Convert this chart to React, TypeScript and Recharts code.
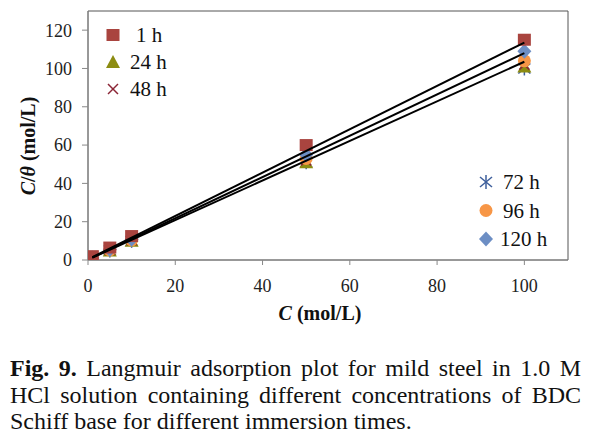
import React from 'react';
import { ScatterChart, Scatter, XAxis, YAxis, ReferenceArea } from 'recharts';

const concentrations = [1, 5, 10, 50, 100];
const h1 = [2, 6.5, 12.5, 60, 115];
const h24 = [1, 5, 10, 51, 101];
const h48 = [1, 5.2, 10.3, 52, 102];
const h72 = [0.9, 5, 10, 51, 100];
const h96 = [1.1, 5.3, 10.5, 53, 104];
const h120 = [1.1, 5.5, 10.8, 55, 109];

const fitX = [1, 100];
const fitA = [1.5, 113.5];
const fitB = [1.3, 108];
const fitC = [1.2, 103.5];

const xTicks = [0, 20, 40, 60, 80, 100];
const yTicks = [0, 20, 40, 60, 80, 100, 120];

const toPts = (ys: number[], xsArr: number[] = concentrations) => xsArr.map((x, i) => ({ x, y: ys[i] }));

const FONT = '"Liberation Serif"';

const C = {
  square: '#a9443f',
  tri: '#8c8c12',
  x: '#8b2636',
  ast: '#3e5f9c',
  circle: '#f79646',
  diamond: '#6c8ec4',
};

const Square = (p: any) => <rect x={p.cx - 6.5} y={p.cy - 6} width={13} height={12} fill={C.square} />;
const Tri = (p: any) => (
  <polygon points={`${p.cx},${p.cy - 7} ${p.cx + 7},${p.cy + 6} ${p.cx - 7},${p.cy + 6}`} fill={C.tri} />
);
const XMark = (p: any) => (
  <g stroke={C.x} strokeWidth={1.5}>
    <line x1={p.cx - 5} y1={p.cy - 5} x2={p.cx + 5} y2={p.cy + 5} />
    <line x1={p.cx - 5} y1={p.cy + 5} x2={p.cx + 5} y2={p.cy - 5} />
  </g>
);
const Ast = (p: any) => (
  <g stroke={C.ast} strokeWidth={1.5}>
    <line x1={p.cx} y1={p.cy - 7} x2={p.cx} y2={p.cy + 7} />
    <line x1={p.cx - 6} y1={p.cy - 5} x2={p.cx + 6} y2={p.cy + 5} />
    <line x1={p.cx - 6} y1={p.cy + 5} x2={p.cx + 6} y2={p.cy - 5} />
  </g>
);
const Circ = (p: any) => <circle cx={p.cx} cy={p.cy} r={6.5} fill={C.circle} />;
const Diam = (p: any) => (
  <polygon points={`${p.cx},${p.cy - 7.5} ${p.cx + 7},${p.cy} ${p.cx},${p.cy + 7.5} ${p.cx - 7},${p.cy}`} fill={C.diamond} />
);
const None = () => <g />;

const legendLeft = [
  { label: '1 h', Shape: Square },
  { label: '24 h', Shape: Tri },
  { label: '48 h', Shape: XMark },
];
const legendRight = [
  { label: '72 h', Shape: Ast },
  { label: '96 h', Shape: Circ },
  { label: '120 h', Shape: Diam },
];

const txtStyle = { fontFamily: FONT };

const YLabel = () => (
  <text
    x={0}
    y={0}
    transform="translate(35,146) rotate(-90)"
    textAnchor="middle"
    style={{ fontFamily: FONT, fontSize: 20, fontWeight: 'bold' }}
    fill="#111"
  >
    <tspan fontStyle="italic">C</tspan>
    <tspan>/</tspan>
    <tspan fontStyle="italic">θ</tspan>
    <tspan> (mol/L)</tspan>
  </text>
);

export default function App() {
  return (
    <div style={{ position: 'absolute', left: 0, top: 0, width: 596, height: 436, background: '#fff', fontFamily: FONT }}>
      <ScatterChart width={596} height={330} margin={{ top: 11, right: 28, bottom: 40, left: 28 }} style={{ fontFamily: FONT }}>
        <XAxis
          type="number"
          dataKey="x"
          domain={[0, 110]}
          ticks={xTicks}
          allowDataOverflow
          stroke="#888"
          tickSize={5}
          tickMargin={14}
          height={30}
          tick={{ fontSize: 18, fill: '#222', style: txtStyle }}
        />
        <YAxis
          type="number"
          dataKey="y"
          domain={[0, 130]}
          ticks={yTicks}
          allowDataOverflow
          stroke="#888"
          tickSize={6}
          tickMargin={10}
          width={60}
          tick={{ fontSize: 18, fill: '#222', style: txtStyle }}
        />
        <ReferenceArea x1={0} x2={110} y1={0} y2={130} fill="none" stroke="#555" strokeWidth={1} />
        <Scatter data={toPts(h72)} shape={Ast} isAnimationActive={false} />
        <Scatter data={toPts(h24)} shape={Tri} isAnimationActive={false} />
        <Scatter data={toPts(h48)} shape={XMark} isAnimationActive={false} />
        <Scatter data={toPts(h96)} shape={Circ} isAnimationActive={false} />
        <Scatter data={toPts(h120)} shape={Diam} isAnimationActive={false} />
        <Scatter data={toPts(h1)} shape={Square} isAnimationActive={false} />
        <Scatter data={toPts(fitA, fitX)} shape={None} line={{ stroke: '#000', strokeWidth: 2 }} isAnimationActive={false} />
        <Scatter data={toPts(fitB, fitX)} shape={None} line={{ stroke: '#000', strokeWidth: 2 }} isAnimationActive={false} />
        <Scatter data={toPts(fitC, fitX)} shape={None} line={{ stroke: '#000', strokeWidth: 2 }} isAnimationActive={false} />
        <YLabel />
        <text x={320} y={320} textAnchor="middle" style={{ fontFamily: FONT, fontSize: 20, fontWeight: 'bold' }} fill="#111">
          <tspan fontStyle="italic">C</tspan>
          <tspan> (mol/L)</tspan>
        </text>
      </ScatterChart>

      <svg width={596} height={330} style={{ position: 'absolute', left: 0, top: 0, pointerEvents: 'none', fontFamily: FONT }}>
        {legendLeft.map((it, i) => (
          <g key={it.label}>
            <it.Shape cx={113} cy={35 + i * 27} />
            <text x={it.label === '1 h' ? 136 : 130} y={35 + i * 27 + 7} style={{ fontFamily: FONT, fontSize: 21 }} fill="#111">
              {it.label}
            </text>
          </g>
        ))}
        {legendRight.map((it, i) => (
          <g key={it.label}>
            <it.Shape cx={486} cy={182 + i * 28.5} />
            <text x={it.label === '120 h' ? 500 : 503} y={182 + i * 28.5 + 7} style={{ fontFamily: FONT, fontSize: 21 }} fill="#111">
              {it.label}
            </text>
          </g>
        ))}
      </svg>

      <div
        style={{
          position: 'absolute',
          left: 10,
          top: 355,
          width: 571,
          fontFamily: FONT,
          fontSize: 24,
          lineHeight: '26.5px',
          color: '#111',
        }}
      >
        <div style={{ textAlign: 'justify', textAlignLast: 'justify', whiteSpace: 'nowrap' as any }}>
          <b>Fig. 9.</b> Langmuir adsorption plot for mild steel in 1.0 M
        </div>
        <div style={{ textAlign: 'justify', textAlignLast: 'justify' }}>
          HCl solution containing different concentrations of BDC
        </div>
        <div>Schiff base for different immersion times.</div>
      </div>
    </div>
  );
}
